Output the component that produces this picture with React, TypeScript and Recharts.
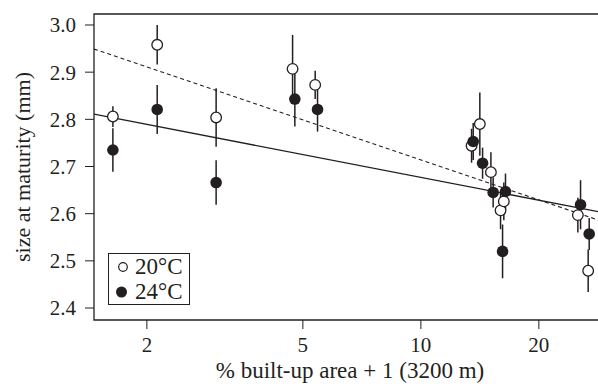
import { ScatterChart, Scatter, XAxis, YAxis, ErrorBar, ReferenceArea } from "recharts";

// 20°C (open circles)
const x20 = [1.638, 2.125, 3.004, 4.707, 5.375, 13.47, 14.14, 15.09, 15.97, 16.28, 25.15, 26.72];
const y20 = [2.806, 2.958, 2.804, 2.907, 2.873, 2.744, 2.79, 2.688, 2.607, 2.626, 2.597, 2.479];
const e20 = [0.022, 0.042, 0.062, 0.072, 0.03, 0.036, 0.067, 0.042, 0.04, 0.04, 0.037, 0.045];

// 24°C (filled circles)
const x24 = [1.638, 2.125, 3.004, 4.77, 5.45, 13.6, 14.37, 15.29, 16.44, 16.16, 25.55, 26.88];
const y24 = [2.735, 2.821, 2.666, 2.843, 2.821, 2.753, 2.707, 2.645, 2.647, 2.52, 2.619, 2.557];
const e24 = [0.046, 0.052, 0.047, 0.058, 0.047, 0.039, 0.033, 0.032, 0.038, 0.057, 0.052, 0.034];

// fitted lines, read at the plot edges
const fitX = [1.466, 29.67];
const fit20 = [2.949, 2.581];
const fit24 = [2.811, 2.601];

const xTicks = [2, 5, 10, 20];
const yTicks = [2.4, 2.5, 2.6, 2.7, 2.8, 2.9, 3.0];
const xDomain = [1.466, 29.67];
const yDomain = [2.3746, 3.0233];

const ink = "#231f20";
const font = "Liberation Serif";

const pts20 = x20.map((x, i) => ({ x, y: y20[i], e: e20[i] }));
const pts24 = x24.map((x, i) => ({ x, y: y24[i], e: e24[i] }));
const line20 = fitX.map((x, i) => ({ x, y: fit20[i] }));
const line24 = fitX.map((x, i) => ({ x, y: fit24[i] }));

const openDot = (p: any) => (
  <circle cx={p.cx} cy={p.cy} r={5.3} fill="#fff" stroke={ink} strokeWidth={1.3} />
);
const fullDot = (p: any) => <circle cx={p.cx} cy={p.cy} r={5.8} fill={ink} />;
const noDot = () => <g />;

function Legend() {
  const row = { display: "flex", alignItems: "center", height: 25 } as const;
  return (
    <div
      style={{
        position: "absolute",
        left: 108,
        top: 253,
        width: 80,
        height: 50,
        border: `1.3px solid ${ink}`,
        background: "#fff",
        fontFamily: font,
        fontSize: 23,
        color: ink,
        lineHeight: "25px",
      }}
    >
      <div style={row}>
        <svg width={26} height={25}>
          <circle cx={14} cy={13} r={4.3} fill="#fff" stroke={ink} strokeWidth={1.2} />
        </svg>
        <span>20°C</span>
      </div>
      <div style={row}>
        <svg width={26} height={25}>
          <circle cx={12.5} cy={13} r={5.5} fill={ink} />
        </svg>
        <span>24°C</span>
      </div>
    </div>
  );
}

export default function App() {
  return (
    <div
      style={{
        position: "absolute",
        left: 0,
        top: 0,
        width: 598,
        height: 388,
        overflow: "hidden",
        background: "#fff",
      }}
    >
      <ScatterChart width={606} height={388} margin={{ top: 14, right: 0, bottom: 0, left: 0 }}>
        <XAxis
          type="number"
          dataKey="x"
          scale="log"
          domain={xDomain}
          ticks={xTicks}
          allowDataOverflow
          axisLine={false}
          tickSize={9}
          tickMargin={8}
          height={68}
          stroke={ink}
          tick={{ fill: ink, fontSize: 21, fontFamily: font }}
          label={{
            value: "% built-up area + 1 (3200 m)",
            position: "insideBottom",
            offset: 10,
            fill: ink,
            fontSize: 23,
            fontFamily: font,
          }}
        />
        <YAxis
          type="number"
          dataKey="y"
          domain={yDomain}
          ticks={yTicks}
          allowDataOverflow
          axisLine={false}
          tickSize={9}
          tickMargin={9}
          width={94}
          stroke={ink}
          tickFormatter={(v: number) => v.toFixed(1)}
          tick={{ fill: ink, fontSize: 21, fontFamily: font }}
          label={{
            value: "size at maturity (mm)",
            angle: -90,
            position: "insideLeft",
            offset: 22,
            fill: ink,
            fontSize: 22,
            fontFamily: font,
            style: { textAnchor: "middle" },
          }}
        />
        <ReferenceArea
          x1={xDomain[0]}
          x2={xDomain[1]}
          y1={yDomain[0]}
          y2={yDomain[1]}
          fill="none"
          stroke={ink}
          strokeWidth={1.3}
          ifOverflow="visible"
        />
        <Scatter
          data={line20}
          line={{ stroke: ink, strokeWidth: 1.1, strokeDasharray: "4 3" }}
          shape={noDot}
          isAnimationActive={false}
        />
        <Scatter
          data={line24}
          line={{ stroke: ink, strokeWidth: 1.4 }}
          shape={noDot}
          isAnimationActive={false}
        />
        <Scatter data={pts20} shape={openDot} isAnimationActive={false}>
          <ErrorBar dataKey="e" direction="y" width={0} stroke={ink} strokeWidth={1.5} />
        </Scatter>
        <Scatter data={pts24} shape={fullDot} isAnimationActive={false}>
          <ErrorBar dataKey="e" direction="y" width={0} stroke={ink} strokeWidth={1.5} />
        </Scatter>
      </ScatterChart>
      <Legend />
    </div>
  );
}
